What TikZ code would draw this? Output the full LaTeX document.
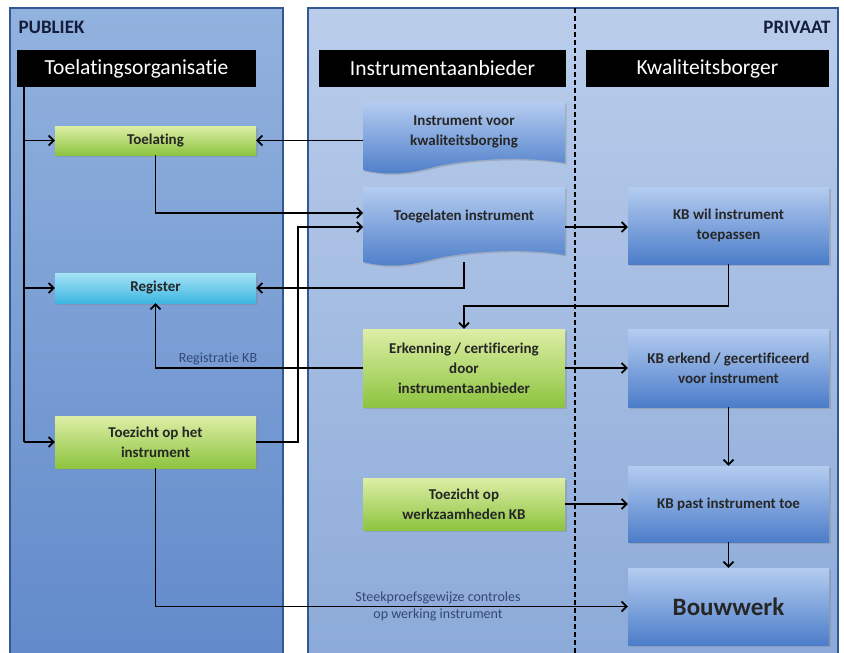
\documentclass[tikz,border=0pt]{standalone}
\usepackage{fontspec}
\setmainfont{Carlito}[Ligatures={NoCommon}]
\usetikzlibrary{shadows,arrows.meta}
\begin{document}
\begin{tikzpicture}[x=1pt,y=-1pt,
  hdr/.style={fill=black,text=white,minimum height=37pt,inner sep=0pt,font=\fontsize{21.5}{25}\selectfont},
  grn/.style={top color=grtop,bottom color=grbot,
     drop shadow={opacity=0.35,shadow xshift=1.5pt,shadow yshift=-1.5pt},
     inner sep=2pt,align=center,font=\fontsize{15}{20}\selectfont\bfseries,text=black!85},
  blu/.style={top color=bluetop,bottom color=bluebot,
     drop shadow={opacity=0.35,shadow xshift=1.5pt,shadow yshift=-1.5pt},
     inner sep=2pt,align=center,font=\fontsize{15}{20}\selectfont\bfseries,text=black!85},
  doc/.style={inner sep=2pt,align=center,font=\fontsize{15}{20}\selectfont\bfseries,text=black!85},
  conn/.style={line width=1.9pt,draw=black},
  arr/.style={conn,-{Straight Barb[length=5pt,width=10pt,line width=1.7pt]}},
  lbl/.style={font=\fontsize{14}{17}\selectfont,text=labcol,align=center},
  doclayer/.style={top color=bluetop,bottom color=bluebot,drop shadow={opacity=0.35,shadow xshift=1.5pt,shadow yshift=-1.5pt}}
]
\definecolor{bluetop}{HTML}{B4CCF0}
\definecolor{bluebot}{HTML}{4C7DC9}
\definecolor{labcol}{HTML}{34477A}
\definecolor{grtop}{HTML}{DDEEA6}
\definecolor{grbot}{HTML}{8DC440}
\definecolor{cytop}{HTML}{A6E4F6}
\definecolor{cybot}{HTML}{3DB6E2}
\definecolor{pnlborder}{HTML}{345894}
\definecolor{pubtop}{HTML}{92B2DE}
\definecolor{pubbot}{HTML}{628ACA}
\definecolor{privtop}{HTML}{BACDEB}
\definecolor{privbot}{HTML}{8CAAD8}
\definecolor{titcol}{HTML}{141E3C}
\useasboundingbox (0,0) rectangle (844,653);
\fill[white] (0,0) rectangle (844,653);
% panels
\shade[top color=pubtop,bottom color=pubbot] (10,8) rectangle (283,660);
\draw[line width=2pt,draw=pnlborder] (10,660) -- (10,8) -- (283,8) -- (283,660);
\shade[top color=privtop,bottom color=privbot] (308,8) rectangle (838,660);
\draw[line width=2pt,draw=pnlborder] (308,660) -- (308,8) -- (838,8) -- (838,660);
\draw[line width=1.5pt,dash pattern=on 5pt off 3pt] (575,8) -- (575,653);
\node[anchor=west,font=\fontsize{19}{22}\selectfont\bfseries,text=titcol] (pub) at (15,27) {PUBLIEK};
\node[anchor=east,font=\fontsize{19}{22}\selectfont\bfseries,text=titcol] (priv) at (834,27) {PRIVAAT};
% headers
\node[hdr,minimum width=239pt] (to) at (136.5,68.5) {Toelatingsorganisatie};
\node[hdr,minimum width=247pt] (ia) at (442.5,68.5) {Instrumentaanbieder};
\node[hdr,minimum width=243pt] (kb) at (707.5,68.5) {Kwaliteitsborger};
% left column
\node[grn,minimum width=201pt,minimum height=29pt] (toel) at (155.5,140.5) {Toelating};
\node[grn,top color=cytop,bottom color=cybot,minimum width=201pt,minimum height=30pt] (reg) at (155.5,288) {Register};
\node[grn,minimum width=201pt,minimum height=52pt] (tzi) at (155.5,442) {Toezicht op het\\instrument};
% middle column: document shapes
\shade[doclayer]
  (363,102) -- (565,102) -- (565,163) .. controls (520,155) and (460,160) .. (430,168)
  .. controls (400,176) and (380,174) .. (363,170) -- cycle;
\node[doc,minimum width=202pt,minimum height=60pt] (ivk) at (464,132) {Instrument voor\\kwaliteitsborging};
\shade[doclayer]
  (363,187) -- (565,187) -- (565,255) .. controls (520,247) and (460,252) .. (430,260)
  .. controls (400,268) and (380,266) .. (363,262) -- cycle;
\node[doc,minimum width=202pt,minimum height=60pt] (ti) at (464,217) {Toegelaten instrument};
\node[grn,minimum width=202pt,minimum height=78pt] (erk) at (464,368) {Erkenning / certificering\\door\\instrumentaanbieder};
\node[grn,minimum width=202pt,minimum height=52pt] (tzw) at (464,504) {Toezicht op\\werkzaamheden KB};
% right column
\node[blu,minimum width=201pt,minimum height=77pt] (kbw) at (728.5,225.5) {KB wil instrument\\toepassen};
\node[blu,minimum width=201pt,minimum height=78pt] (kbe) at (728.5,368) {KB erkend / gecertificeerd\\voor instrument};
\node[blu,minimum width=201pt,minimum height=76pt] (kbp) at (728.5,504) {KB past instrument toe};
\node[blu,minimum width=201pt,minimum height=77pt,font=\fontsize{25}{30}\selectfont\bfseries] (bw) at (728.5,606.5) {Bouwwerk};
% connectors
\coordinate (c0) at (24,87);
\draw[conn] (c0) -- (24,442);
\draw[arr] (24,140.5) -- (toel.west);
\draw[arr] (24,288) -- (reg.west);
\draw[arr] (24,442) -- (tzi.west);
\draw[arr] (ivk.west |- toel.east) -- (toel.east);
\draw[arr] (toel.south) |- (363,213);
\draw[arr] (tzi.east) -- (298,442) |- (363,227);
\draw[arr] (464,262) |- (reg.east);
\draw[arr] (565,227) -- (kbw.west |- 0,227);
\draw[arr] (kbw.south) |- (464,306) -- (erk.north);
\draw[arr] (erk.west) -| (reg.south);
\node[lbl] (rkb) at (218,359) {Registratie KB};
\draw[arr] (erk.east) -- (kbe.west);
\draw[arr] (kbe.south) -- (kbp.north);
\draw[arr] (tzw.east) -- (kbp.west);
\draw[arr] (kbp.south) -- (bw.north);
\draw[arr] (tzi.south) |- (bw.west);
\node[lbl] (stk) at (438,606) {Steekproefsgewijze controles\\op werking instrument};
\end{tikzpicture}
\end{document}
